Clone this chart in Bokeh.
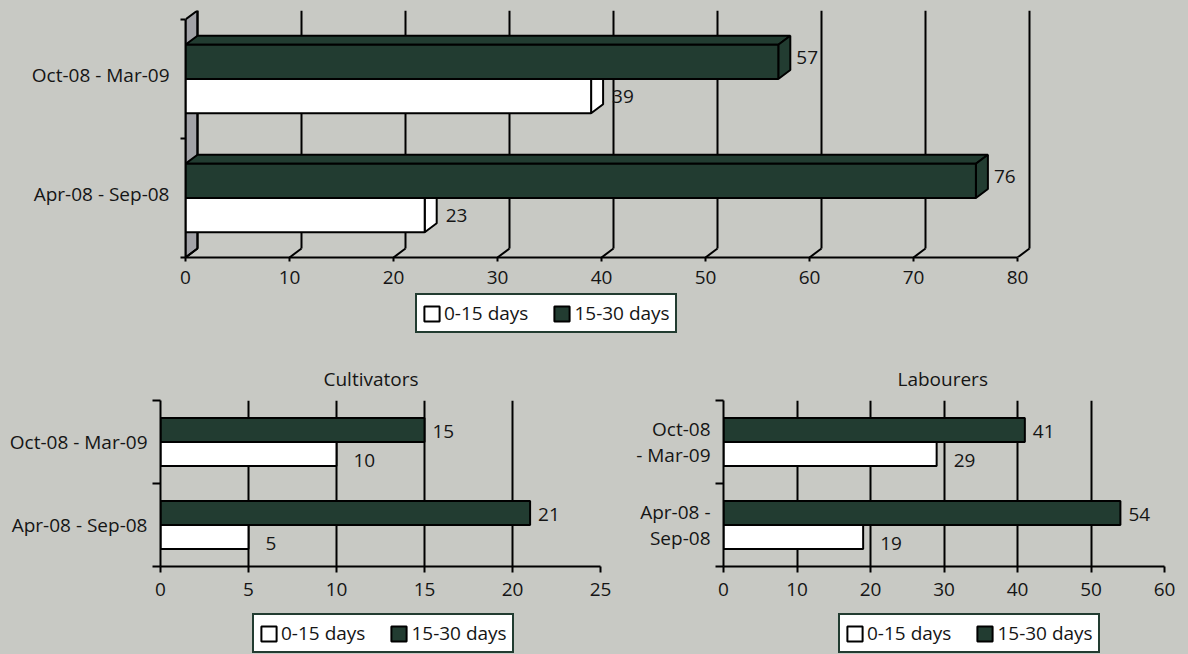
from bokeh.plotting import figure
from bokeh.models import (Range1d, FixedTicker, CustomJSTickFormatter, Legend, LegendItem)
from bokeh.layouts import column, row
from bokeh.core.properties import value
from bokeh.embed import file_html
from bokeh.resources import INLINE

# ---- data -------------------------------------------------------------
periods = ["Apr-08 - Sep-08", "Oct-08 - Mar-09"]
lab_periods = ["Apr-08 -\nSep-08", "Oct-08\n- Mar-09"]
series_names = ["0-15 days", "15-30 days"]

all_0_15 = [23, 39]
all_15_30 = [76, 57]
cult_0_15 = [5, 10]
cult_15_30 = [21, 15]
lab_0_15 = [19, 29]
lab_15_30 = [54, 41]

top_ticks = [0, 10, 20, 30, 40, 50, 60, 70, 80]
cult_ticks = [0, 5, 10, 15, 20, 25]
lab_ticks = [0, 10, 20, 30, 40, 50, 60]

# ---- style ------------------------------------------------------------
BG = "#c8c9c4"
DARK = "#223c31"
WALL = "#a2a2a7"
INK = "#151515"
FONT = "Open Sans"
FS = "19px"
H = 0.288          # bar thickness in category units
colors = ["white", DARK]


def style_common(p):
    p.background_fill_color = None
    p.border_fill_color = None
    p.outline_line_color = None
    for ax in (p.xaxis[0], p.yaxis[0]):
        ax.axis_line_color = "black"
        ax.axis_line_width = 2
        ax.major_tick_line_color = "black"
        ax.major_tick_line_width = 2
        ax.minor_tick_line_color = "black"
        ax.minor_tick_line_width = 2
        ax.major_label_text_font = FONT
        ax.major_label_text_font_size = FS
        ax.major_label_text_color = INK


def legend_strip(width, height, left, right, loc, series):
    """A bare strip holding the series key for the chart above it."""
    p = figure(width=width, height=height, x_range=Range1d(0, 1), y_range=Range1d(0, 1),
               output_backend="svg", toolbar_location=None,
               min_border_left=left, min_border_right=right, min_border_top=0, min_border_bottom=0)
    p.background_fill_color = None
    p.border_fill_color = None
    p.outline_line_color = None
    p.axis.visible = False
    p.grid.visible = False
    keys = []
    for i, vals in enumerate(series):
        r = p.hbar(y=list(range(len(vals))), height=0.5, left=0, right=vals,
                   fill_color=colors[i], line_color="black", line_width=2)
        r.visible = False      # only the swatch in the key is wanted here
        keys.append(r)
    leg = Legend(
        items=[LegendItem(label=series_names[i], renderers=[keys[i]]) for i in range(2)],
        orientation="horizontal", location=loc,
        border_line_color=DARK, border_line_width=2, border_line_alpha=1.0,
        background_fill_color="white", background_fill_alpha=1.0,
        inactive_fill_alpha=0.0,
        glyph_width=19, glyph_height=19, label_height=19, label_standoff=3, spacing=24,
        padding=5, margin=0,
        label_text_font=FONT, label_text_font_size=FS, label_text_color=INK,
    )
    p.add_layout(leg, "center")
    return p


# ---- top chart: 3-D clustered bars -----------------------------------
PX_X = 10.4        # pixels per unit on x
PX_Y = 119.0       # pixels per category
DX = 12 / PX_X     # depth offset (x units)
DY = 9 / PX_Y      # depth offset (category units)

top = figure(width=1188, height=290, x_range=Range1d(0, 82.5), y_range=Range1d(0, 2 + DY),
             output_backend="svg", toolbar_location=None,
             min_border_left=185, min_border_right=145, min_border_top=10, min_border_bottom=33)
style_common(top)
top.grid.visible = False

top.xaxis.ticker = FixedTicker(ticks=top_ticks)
top.xaxis.bounds = (0, 80)
top.xaxis.major_tick_in = 0
top.xaxis.major_tick_out = 4
top.xaxis.minor_tick_out = 0
top.xaxis.major_label_standoff = 9

cat_centers = [i + 0.5 for i in range(len(periods))]
top.yaxis.ticker = FixedTicker(ticks=[c + DY / 2 for c in cat_centers], minor_ticks=[0, 1, 2])
top.yaxis.bounds = (0, 2)
top.yaxis.major_tick_in = 0
top.yaxis.major_tick_out = 0
top.yaxis.minor_tick_in = 0
top.yaxis.minor_tick_out = 5
top.yaxis.major_label_standoff = 11
top.yaxis.formatter = CustomJSTickFormatter(args=dict(labels=periods), code="return labels[index]")

# side wall
top.patch([0, DX, DX, 0], [0, DY, 2 + DY, 2], fill_color=WALL, line_color="black", line_width=2)
# back-wall gridlines and floor stubs
top.segment(x0=[t + DX for t in top_ticks], y0=DY, x1=[t + DX for t in top_ticks], y1=2 + DY,
            line_color="black", line_width=2)
top.segment(x0=top_ticks, y0=0, x1=[t + DX for t in top_ticks], y1=DY,
            line_color="black", line_width=2)

for s, vals in enumerate([all_0_15, all_15_30]):
    y0s = [c - H if s == 0 else c for c in cat_centers]
    tops_x, tops_y, side_x, side_y = [], [], [], []
    for v, y0 in zip(vals, y0s):
        tops_x.append([0, DX, v + DX, v])
        tops_y.append([y0 + H, y0 + H + DY, y0 + H + DY, y0 + H])
        side_x.append([v, v + DX, v + DX, v])
        side_y.append([y0, y0 + DY, y0 + H + DY, y0 + H])
    top.patches(tops_x, tops_y, fill_color=colors[s], line_color="black", line_width=2)
    top.patches(side_x, side_y, fill_color=colors[s], line_color="black", line_width=2)
    top.hbar(y=[y + H / 2 for y in y0s], height=H, left=0, right=vals,
             fill_color=colors[s], line_color="black", line_width=2)
    top.text(x=[v + DX for v in vals],
             y=[y + H / 2 + (DY / 2 if s == 1 else 0) for y in y0s],
             text=[str(v) for v in vals], x_offset=9 if s == 0 else 6,
             text_font=value(FONT), text_font_size=FS, text_color=INK,
             text_baseline="middle", text_align="left")

top_key = legend_strip(1188, 55, 185, 145, (415 - 185, 12), [all_0_15, all_15_30])


# ---- bottom charts: flat clustered bars ------------------------------
def flat_chart(title, cats, v0, v1, ticks, width, left, right, title_offset):
    p = figure(width=width, height=260, x_range=Range1d(0, ticks[-1]), y_range=Range1d(0, 2),
               output_backend="svg", toolbar_location=None,
               min_border_left=left, min_border_right=right, min_border_top=55, min_border_bottom=39)
    style_common(p)
    p.title.text = title
    p.title.align = "left"
    p.title.offset = title_offset
    p.title.text_font = FONT
    p.title.text_font_size = FS
    p.title.text_font_style = "normal"
    p.title.text_color = INK
    p.title.standoff = 18

    p.ygrid.visible = False
    p.xgrid.ticker = FixedTicker(ticks=ticks)
    p.xgrid.grid_line_color = "black"
    p.xgrid.grid_line_width = 2

    p.xaxis.ticker = FixedTicker(ticks=ticks)
    p.xaxis.major_tick_in = 0
    p.xaxis.major_tick_out = 6
    p.xaxis.minor_tick_out = 0
    p.xaxis.major_label_standoff = 10

    centers = [i + 0.5 for i in range(len(cats))]
    p.yaxis.ticker = FixedTicker(ticks=centers, minor_ticks=[0, 1, 2])
    p.yaxis.major_tick_in = 0
    p.yaxis.major_tick_out = 0
    p.yaxis.minor_tick_in = 0
    p.yaxis.minor_tick_out = 8
    p.yaxis.major_label_standoff = 5
    p.yaxis.major_label_text_line_height = 1.0
    p.yaxis.formatter = CustomJSTickFormatter(args=dict(labels=cats), code="return labels[index]")

    for s, vals in enumerate([v0, v1]):
        ys = [c - H / 2 if s == 0 else c + H / 2 for c in centers]
        p.hbar(y=ys, height=H, left=0, right=vals, fill_color=colors[s],
               line_color="black", line_width=2)
        p.text(x=vals, y=ys, text=[str(v) for v in vals],
               x_offset=17 if s == 0 else 8, y_offset=7 if s == 0 else 1,
               text_font=value(FONT), text_font_size=FS, text_color=INK,
               text_baseline="middle", text_align="left")
    return p


cult = flat_chart("Cultivators", periods, cult_0_15, cult_15_30, cult_ticks, 620, 160, 20, 163)
lab = flat_chart("Labourers", lab_periods, lab_0_15, lab_15_30, lab_ticks, 568, 103, 24, 174)
cult_key = legend_strip(620, 49, 160, 20, (252 - 160, 1), [cult_0_15, cult_15_30])
lab_key = legend_strip(568, 49, 103, 24, (838 - 723, 1), [lab_0_15, lab_15_30])

layout = column(top, top_key,
                row(column(cult, cult_key, spacing=0), column(lab, lab_key, spacing=0), spacing=0),
                spacing=0, styles={"background-color": BG})

with open("out.html", "w") as f:
    f.write(file_html(layout, INLINE))
